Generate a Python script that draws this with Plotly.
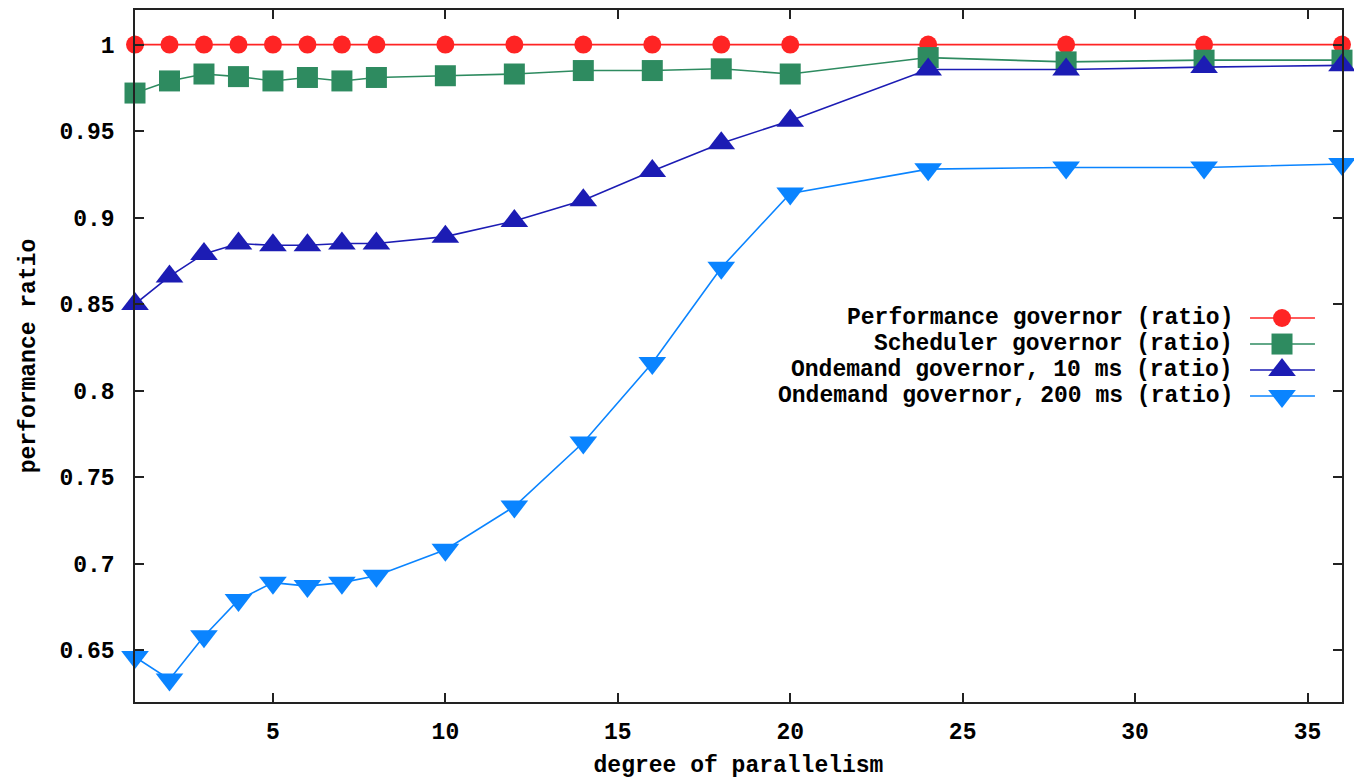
import plotly.graph_objects as go

x_vals = [1, 2, 3, 4, 5, 6, 7, 8, 10, 12, 14, 16, 18, 20, 24, 28, 32, 36]

perf = [1.0] * 18
sched = [0.972, 0.979, 0.983, 0.9815, 0.979, 0.981, 0.979, 0.981, 0.982, 0.983,
         0.985, 0.985, 0.986, 0.983, 0.9925, 0.990, 0.991, 0.991]
ond10 = [0.850, 0.866, 0.879, 0.885, 0.884, 0.884, 0.885, 0.885, 0.889, 0.898,
         0.910, 0.927, 0.943, 0.956, 0.9856, 0.9856, 0.987, 0.988]
ond200 = [0.646, 0.633, 0.658, 0.679, 0.689, 0.687, 0.689, 0.693, 0.708, 0.733,
          0.770, 0.816, 0.871, 0.914, 0.928, 0.929, 0.929, 0.931]

names = ["Performance governor (ratio)", "Scheduler governor (ratio)",
         "Ondemand governor, 10 ms (ratio)", "Ondemand governor, 200 ms (ratio)"]
colors = ["#ff2424", "#2e8b60", "#1c1cb4", "#0a84ff"]
symbols = ["circle", "square", "triangle-up", "triangle-down"]
sizes = [18, 21, 24, 24]
series = [perf, sched, ond10, ond200]

y_ticks = [0.65, 0.7, 0.75, 0.8, 0.85, 0.9, 0.95, 1.0]
y_tick_text = ["0.65", "0.7", "0.75", "0.8", "0.85", "0.9", "0.95", "1"]
x_ticks = [5, 10, 15, 20, 25, 30, 35]

FONT = dict(family="Liberation Mono, DejaVu Sans Mono, monospace", size=23,
            color="black", weight="bold")

fig = go.Figure()
for name, ys, c, sym, sz in zip(names, series, colors, symbols, sizes):
    fig.add_trace(go.Scatter(
        x=x_vals, y=ys, mode="lines+markers", name=name,
        line=dict(color=c, width=1.6),
        marker=dict(symbol=sym, size=sz, color=c, opacity=1, line=dict(width=0)),
        cliponaxis=False, showlegend=False))

# custom legend (keys to the right of the text, gnuplot style)
leg_y = [0.5549, 0.5173, 0.4798, 0.4422]
for name, c, sym, sz, ly in zip(names, colors, symbols, sizes, leg_y):
    fig.add_trace(go.Scatter(
        x=[0.9238, 0.9503, 0.9776], y=[ly, ly, ly], xaxis="x2", yaxis="y2",
        mode="lines+markers", line=dict(color=c, width=1.6),
        marker=dict(symbol=sym, size=[0, sz, 0], color=c, opacity=1,
                    line=dict(width=0)),
        showlegend=False, hoverinfo="skip", cliponaxis=False))
    fig.add_annotation(x=0.9113, y=ly, xref="paper", yref="paper",
                       text=name, showarrow=False, xanchor="right",
                       yanchor="middle", font=FONT)

fig.update_layout(
    width=1354, height=779,
    margin=dict(l=135, r=12, t=10, b=77),
    paper_bgcolor="white", plot_bgcolor="white",
    font=FONT,
    xaxis=dict(range=[1, 36], tickvals=x_ticks, ticks="inside", ticklen=9,
               tickwidth=1.5, tickcolor="#222", showline=True, linecolor="#222",
               linewidth=1.5, mirror="ticks", showgrid=False, zeroline=False,
               ticklabelstandoff=8, automargin=False,
               title=dict(text="degree of parallelism", standoff=19, font=FONT)),
    yaxis=dict(range=[0.62, 1.02], tickvals=y_ticks, ticktext=y_tick_text,
               ticks="inside", ticklen=9, tickwidth=1.5, tickcolor="#222",
               showline=True, linecolor="#222", linewidth=1.5, mirror="ticks",
               showgrid=False, zeroline=False, ticklabelstandoff=14,
               automargin=False,
               title=dict(text="performance ratio", standoff=17, font=FONT)),
    xaxis2=dict(range=[0, 1], overlaying="x", visible=False, fixedrange=True),
    yaxis2=dict(range=[0, 1], overlaying="y", visible=False, fixedrange=True),
)

fig.write_html("out.html")
